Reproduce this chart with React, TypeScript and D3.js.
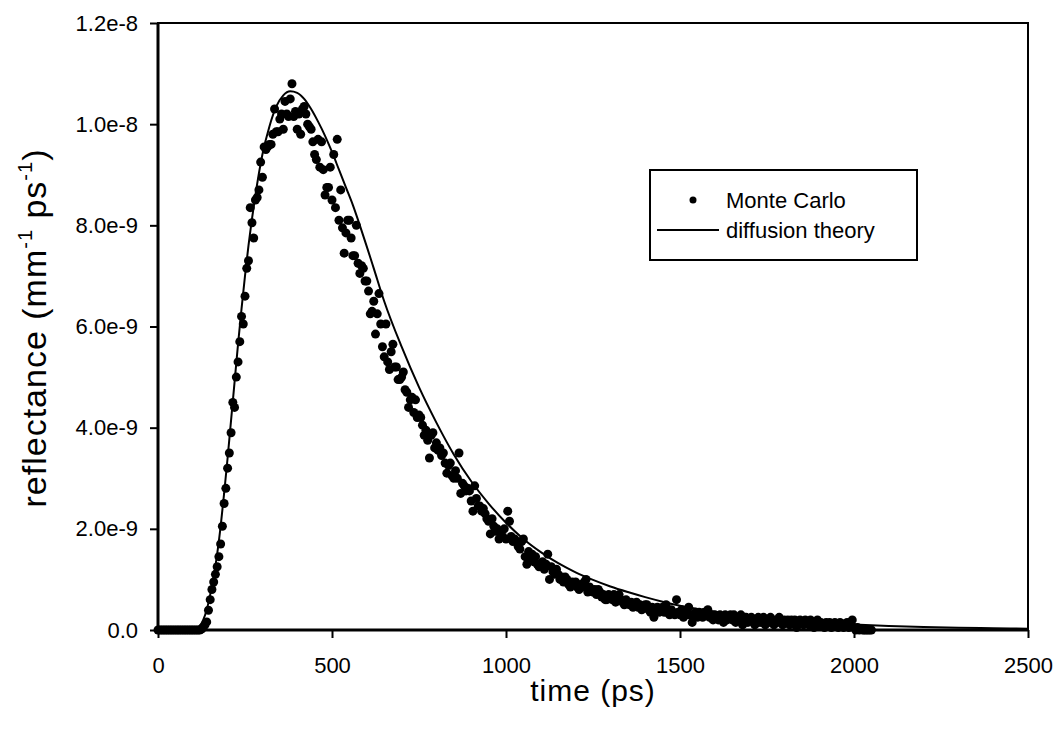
import React, { useEffect, useRef } from "react";
import * as d3 from "d3";

// Monte Carlo reflectance (units of 1e-9 mm^-1 ps^-1), sampled every 5 ps from 0 ps
const MC_STEP = 5;
const mcValues: number[] = [
  0, 0, 0, 0, 0, 0, 0, 0, 0, 0,
  0, 0, 0, 0, 0, 0, 0, 0, 0, 0,
  0, 0, 0, 0, 0, 0.02, 0.05, 0.1, 0.16, 0.39,
  0.6, 0.8, 0.95, 1.1, 1.25, 1.45, 1.7, 2.05, 2.5, 2.8,
  3.2, 3.5, 3.9, 4.5, 4.4, 5.0, 5.3, 5.7, 6.2, 6.05,
  6.6, 7.15, 7.3, 8.35, 8.05, 7.75, 8.5, 8.55, 8.7, 9.25,
  8.95, 9.55, 9.5, 9.55, 9.6, 9.6, 9.8, 10.3, 9.85, 9.85,
  10.1, 10.2, 9.9, 10.45, 10.2, 10.15, 10.5, 10.8, 10.15, 10.25,
  9.9, 10.2, 9.8, 10.3, 10.35, 10.2, 10.0, 9.95, 9.9, 9.65,
  9.4, 9.3, 9.7, 9.15, 9.65, 9.1, 8.6, 8.75, 8.75, 9.15,
  8.5, 9.4, 8.35, 9.7, 8.1, 8.7, 7.95, 7.45, 7.85, 8.1,
  8.1, 7.75, 7.4, 7.4, 8.0, 7.25, 7.05, 7.2, 7.15, 6.9,
  6.9, 6.7, 6.25, 6.3, 6.5, 5.85, 6.25, 6.65, 6.05, 5.6,
  5.4, 6.05, 5.3, 5.15, 5.5, 5.65, 5.2, 5.2, 4.95, 4.95,
  5.0, 5.1, 4.75, 4.7, 4.4, 4.55, 4.6, 4.3, 4.55, 4.2,
  4.25, 4.2, 4.05, 3.85, 3.95, 3.75, 3.4, 3.85, 3.9, 3.6,
  3.7, 3.55, 3.6, 3.45, 3.5, 3.3, 3.1, 3.25, 3.3, 3.05,
  3.0, 3.15, 3.0, 3.5, 2.7, 2.9, 2.85, 2.75, 2.8, 2.75,
  2.55, 2.35, 2.85, 2.6, 2.45, 2.45, 2.35, 2.4, 2.3, 2.2,
  2.15, 1.9, 2.2, 2.05, 1.95, 2.0, 1.8, 1.9, 1.85, 2.0,
  1.8, 2.35, 2.15, 1.85, 1.75, 1.8, 1.75, 1.65, 1.6, 1.75,
  1.8, 1.45, 1.3, 1.55, 1.4, 1.5, 1.35, 1.45, 1.3, 1.25,
  1.3, 1.35, 1.2, 1.3, 1.5, 1.0, 1.25, 1.15, 1.1, 1.2,
  1.1, 1.0, 1.05, 0.95, 1.05, 1.0, 0.9, 0.85, 0.95, 0.9,
  0.95, 0.85, 0.8, 0.9, 0.85, 0.95, 1.0, 0.75, 0.85, 0.8,
  0.75, 0.8, 0.7, 0.8, 0.75, 0.65, 0.7, 0.6, 0.6, 0.7,
  0.65, 0.6, 0.7, 0.55, 0.65, 0.7, 0.6, 0.55, 0.5, 0.6,
  0.55, 0.5, 0.55, 0.45, 0.5, 0.55, 0.45, 0.5, 0.4, 0.45,
  0.5, 0.5, 0.4, 0.35, 0.45, 0.25, 0.4, 0.45, 0.35, 0.4,
  0.45, 0.35, 0.5, 0.35, 0.3, 0.4, 0.35, 0.3, 0.6, 0.35,
  0.3, 0.4, 0.25, 0.35, 0.3, 0.45, 0.3, 0.15, 0.3, 0.35,
  0.25, 0.35, 0.3, 0.25, 0.35, 0.3, 0.4, 0.25, 0.3, 0.2,
  0.3, 0.25, 0.2, 0.3, 0.25, 0.15, 0.3, 0.2, 0.25, 0.3,
  0.2, 0.3, 0.15, 0.25, 0.2, 0.3, 0.1, 0.25, 0.25, 0.15,
  0.2, 0.25, 0.2, 0.1, 0.2, 0.25, 0.15, 0.2, 0.25, 0.1,
  0.2, 0.15, 0.25, 0.2, 0.1, 0.2, 0.15, 0.25, 0.2, 0.1,
  0.2, 0.15, 0.2, 0.1, 0.2, 0.15, 0.2, 0.05, 0.15, 0.2,
  0.15, 0.1, 0.2, 0.15, 0.1, 0.2, 0.15, 0.05, 0.15, 0.2,
  0.1, 0.15, 0.1, 0.05, 0.15, 0.1, 0.15, 0.05, 0.1, 0.15,
  0.1, 0.05, 0.15, 0.1, 0.05, 0.1, 0.15, 0.05, 0.1, 0.2,
  0.05, 0, 0.05, 0, 0.02, 0, 0, 0, 0, 0,
  0,
];
const mcTimes: number[] = mcValues.map((_, i) => i * MC_STEP);

// Diffusion theory curve (units of 1e-9)
const curveTimes: number[] = [
  0, 100, 110, 120, 130, 140, 150, 160, 170, 180, 190, 200, 210, 220, 230, 240, 250, 260,
  280, 300, 320, 340, 360, 380, 400, 420, 440, 460, 480, 500, 520, 540, 560, 580, 600, 620,
  650, 700, 750, 800, 850, 900, 950, 1000, 1050, 1100, 1150, 1200, 1250, 1300, 1350, 1400,
  1450, 1500, 1600, 1700, 1800, 1900, 2000, 2100, 2200, 2300, 2400, 2500,
];
const curveValues: number[] = [
  0, 0, 0.02, 0.08, 0.2, 0.4, 0.7, 1.05, 1.5, 2.05, 2.7, 3.4, 4.15, 4.9, 5.65, 6.35, 7.0, 7.6,
  8.6, 9.4, 9.95, 10.35, 10.57, 10.65, 10.62, 10.5, 10.3, 10.05, 9.77, 9.45, 9.1, 8.75, 8.4, 8.0, 7.58, 7.15,
  6.5, 5.6, 4.8, 4.1, 3.47, 2.94, 2.5, 2.12, 1.8, 1.54, 1.32, 1.14, 0.99, 0.86, 0.75, 0.65,
  0.56, 0.48, 0.36, 0.27, 0.2, 0.15, 0.11, 0.08, 0.06, 0.045, 0.035, 0.025,
];

const xTickValues = [0, 500, 1000, 1500, 2000, 2500];
const xTickLabels = ["0", "500", "1000", "1500", "2000", "2500"];
const yTickValues = [0, 2e-9, 4e-9, 6e-9, 8e-9, 1e-8, 1.2e-8];
const yTickLabels = ["0.0", "2.0e-9", "4.0e-9", "6.0e-9", "8.0e-9", "1.0e-8", "1.2e-8"];

const legendLabels = ["Monte Carlo", "diffusion theory"];

const FONT = "'Liberation Sans', Arial, Helvetica, sans-serif";

export default function App() {
  const xAxisRef = useRef<SVGGElement>(null);
  const yAxisRef = useRef<SVGGElement>(null);

  const W = 1060;
  const H = 730;
  const left = 158, right = 1028, top = 23, bottom = 630;

  const x = d3.scaleLinear().domain([0, 2500]).range([left, right]);
  const y = d3.scaleLinear().domain([0, 1.2e-8]).range([bottom, top]);

  const line = d3
    .line<number>()
    .x((_, i) => x(curveTimes[i]))
    .y((d) => y(d * 1e-9))
    .curve(d3.curveMonotoneX);

  useEffect(() => {
    if (xAxisRef.current) {
      const ax = d3
        .axisBottom(x)
        .tickValues(xTickValues)
        .tickFormat((_, i) => xTickLabels[i])
        .tickSizeInner(8)
        .tickSizeOuter(0)
        .tickPadding(19);
      const g = d3.select(xAxisRef.current);
      g.call(ax as any);
      g.select(".domain").remove();
      g.selectAll(".tick line").attr("stroke", "#000").attr("stroke-width", 2);
      g.selectAll(".tick text")
        .attr("font-family", FONT)
        .attr("font-size", 22)
        .attr("fill", "#000");
    }
    if (yAxisRef.current) {
      const ay = d3
        .axisLeft(y)
        .tickValues(yTickValues)
        .tickFormat((_, i) => yTickLabels[i])
        .tickSizeInner(8)
        .tickSizeOuter(0)
        .tickPadding(12);
      const g = d3.select(yAxisRef.current);
      g.call(ay as any);
      g.select(".domain").remove();
      g.selectAll(".tick line").attr("stroke", "#000").attr("stroke-width", 2);
      g.selectAll(".tick text")
        .attr("font-family", FONT)
        .attr("font-size", 22)
        .attr("fill", "#000");
    }
  }, []);

  return (
    <svg
      width={W}
      height={H}
      style={{ position: "absolute", left: 0, top: 0, background: "#fff" }}
    >
      <rect x={0} y={0} width={W} height={H} fill="#fff" />
      {/* diffusion theory curve */}
      <path d={line(curveValues) || ""} fill="none" stroke="#000" strokeWidth={2} />
      {/* Monte Carlo dots */}
      {mcValues.map((v, i) => (
        <circle key={i} cx={x(mcTimes[i])} cy={y(v * 1e-9)} r={4.5} fill="#000" />
      ))}
      {/* frame */}
      <rect
        x={left}
        y={top}
        width={right - left}
        height={bottom - top}
        fill="none"
        stroke="#000"
        strokeWidth={2}
      />
      <line x1={left} x2={left} y1={top} y2={bottom} stroke="#000" strokeWidth={3} />
      <line x1={left} x2={right} y1={bottom} y2={bottom} stroke="#000" strokeWidth={3} />
      <g ref={xAxisRef} transform={`translate(0,${bottom})`} />
      <g ref={yAxisRef} transform={`translate(${left},0)`} />

      {/* axis titles */}
      <text
        x={(left + right) / 2}
        y={701}
        textAnchor="middle"
        fontFamily={FONT}
        fontSize={30}
        letterSpacing={1}
        fill="#000"
      >
        time (ps)
      </text>
      <text
        transform={`translate(46,328) rotate(-90)`}
        textAnchor="middle"
        fontFamily={FONT}
        fontSize={34}
        letterSpacing={1}
        fill="#000"
      >
        reflectance (mm
        <tspan fontSize={20} dy={-14}>-1</tspan>
        <tspan dy={14}> ps</tspan>
        <tspan fontSize={20} dy={-14}>-1</tspan>
        <tspan dy={14}>)</tspan>
      </text>

      {/* legend */}
      <rect x={650} y={170} width={267} height={90} fill="#fff" stroke="#000" strokeWidth={2} />
      <circle cx={693} cy={200} r={3.5} fill="#000" />
      <line x1={657} x2={719} y1={230} y2={230} stroke="#000" strokeWidth={2} />
      <text x={726} y={208} fontFamily={FONT} fontSize={22} fill="#000">
        {legendLabels[0]}
      </text>
      <text x={726} y={238} fontFamily={FONT} fontSize={22} fill="#000">
        {legendLabels[1]}
      </text>
    </svg>
  );
}
